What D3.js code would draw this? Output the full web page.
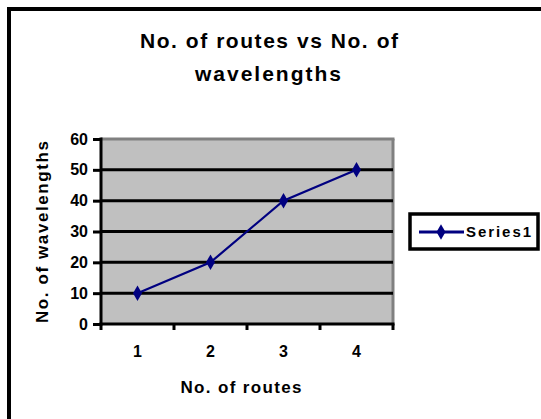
<!DOCTYPE html>
<html><head><meta charset="utf-8">
<script src="https://cdn.jsdelivr.net/npm/d3@7"></script>
<style>body{margin:0;background:#fff}svg{display:block}text{font-family:"Liberation Sans",Arial,sans-serif;font-weight:bold;fill:#000}</style>
</head><body>
<script>
const categories = [1, 2, 3, 4];
const seriesValues = [10, 20, 40, 50];
const yTicks = [0, 10, 20, 30, 40, 50, 60];
const titleLines = ["No. of routes vs No. of", "wavelengths"];
const xTitle = "No. of routes";
const yTitle = "No. of wavelengths";
const seriesName = "Series1";

const W = 541, H = 419;
const svg = d3.select("body").append("svg").attr("width", W).attr("height", H);

// outer chart border (cropped at right/bottom)
svg.append("rect").attr("x", 9).attr("y", 9).attr("width", 700).attr("height", 700)
  .attr("fill", "#fff").attr("stroke", "#000").attr("stroke-width", 4);

const plot = {l: 101, r: 393, t: 139, b: 324};
const x = d3.scaleBand().domain(categories).range([plot.l, plot.r]);
const y = d3.scaleLinear().domain([0, 60]).range([plot.b, plot.t]);

svg.append("rect").attr("x", plot.l).attr("y", plot.t).attr("width", plot.r - plot.l).attr("height", plot.b - plot.t)
  .attr("fill", "#c0c0c0");
// gray top and right borders
svg.append("line").attr("x1", plot.l).attr("x2", plot.r + 1.5).attr("y1", plot.t).attr("y2", plot.t)
  .attr("stroke", "#808080").attr("stroke-width", 3);
svg.append("line").attr("x1", plot.r).attr("x2", plot.r).attr("y1", plot.t).attr("y2", plot.b)
  .attr("stroke", "#808080").attr("stroke-width", 3);

// gridlines
svg.append("g").selectAll("line").data(yTicks.filter(d => d > 0 && d < 60)).join("line")
  .attr("x1", plot.l).attr("x2", plot.r).attr("y1", d => y(d)).attr("y2", d => y(d))
  .attr("stroke", "#000").attr("stroke-width", 3);

// y axis
const yAxis = svg.append("g").attr("transform", `translate(${plot.l},0)`)
  .call(d3.axisLeft(y).tickValues(yTicks).tickSize(8).tickPadding(5));
yAxis.select(".domain").attr("stroke", "#000").attr("stroke-width", 3).attr("d", `M0,${plot.t - 1.5}V${plot.b + 1.5}`);
yAxis.selectAll(".tick line").attr("stroke", "#000").attr("stroke-width", 3);
yAxis.selectAll(".tick text").attr("font-size", 16).attr("font-family", "Liberation Sans, Arial, sans-serif").attr("font-weight", "bold");

// x axis
const xEdges = d3.range(categories.length + 1).map(i => plot.l + i * x.step());
const xAxisG = svg.append("g");
xAxisG.append("line").attr("x1", plot.l - 1.5).attr("x2", plot.r + 1.5).attr("y1", plot.b).attr("y2", plot.b)
  .attr("stroke", "#000").attr("stroke-width", 3);
xAxisG.selectAll("line.tk").data(xEdges).join("line").attr("class", "tk")
  .attr("x1", d => d).attr("x2", d => d).attr("y1", plot.b).attr("y2", plot.b + 6)
  .attr("stroke", "#000").attr("stroke-width", 3);
xAxisG.selectAll("text").data(categories).join("text")
  .attr("x", d => x(d) + x.bandwidth() / 2).attr("y", 357).attr("text-anchor", "middle")
  .attr("font-size", 16).text(d => d);

// line series
const line = d3.line().x((d, i) => x(categories[i]) + x.bandwidth() / 2).y(d => y(d));
svg.append("path").datum(seriesValues).attr("d", line).attr("fill", "none")
  .attr("stroke", "#000080").attr("stroke-width", 2.2);
svg.append("g").selectAll("path").data(seriesValues).join("path")
  .attr("transform", (d, i) => `translate(${x(categories[i]) + x.bandwidth() / 2},${y(d)})`)
  .attr("d", d3.symbol(d3.symbolDiamond, 70)).attr("fill", "#000080");

// titles
svg.append("text").attr("x", 269).attr("y", 48).attr("text-anchor", "middle").attr("font-size", 21)
  .attr("textLength", 258).attr("lengthAdjust", "spacing").text(titleLines[0]);
svg.append("text").attr("x", 268).attr("y", 81).attr("text-anchor", "middle").attr("font-size", 21)
  .attr("textLength", 146).attr("lengthAdjust", "spacing").text(titleLines[1]);
svg.append("text").attr("x", 241).attr("y", 393).attr("text-anchor", "middle").attr("font-size", 17)
  .attr("textLength", 121).attr("lengthAdjust", "spacing").text(xTitle);
svg.append("text").attr("transform", "translate(48,232) rotate(-90)").attr("text-anchor", "middle").attr("font-size", 17)
  .attr("textLength", 182).attr("lengthAdjust", "spacing").text(yTitle);

// legend
const lg = svg.append("g");
lg.append("rect").attr("x", 410).attr("y", 214).attr("width", 128).attr("height", 35)
  .attr("fill", "#fff").attr("stroke", "#000").attr("stroke-width", 3.5);
lg.append("line").attr("x1", 419).attr("x2", 464).attr("y1", 232).attr("y2", 232)
  .attr("stroke", "#000080").attr("stroke-width", 3);
lg.append("path").attr("transform", "translate(441,232)").attr("d", d3.symbol(d3.symbolDiamond, 70)).attr("fill", "#000080");
lg.append("text").attr("x", 466).attr("y", 237).attr("font-size", 15)
  .attr("textLength", 65).attr("lengthAdjust", "spacing").text(seriesName);
</script>
</body></html>
